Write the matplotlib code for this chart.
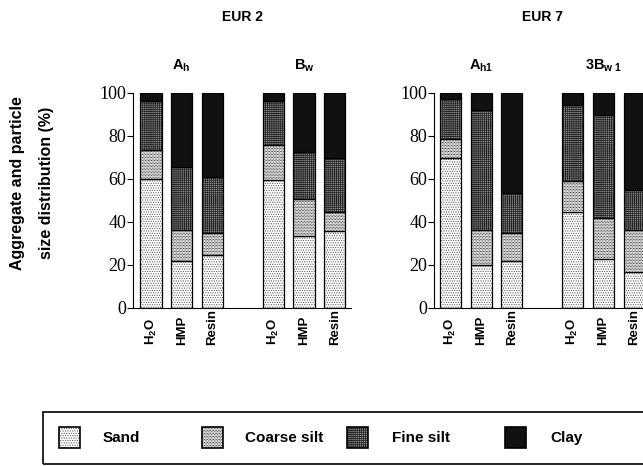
import matplotlib
matplotlib.use('Agg')
import matplotlib.pyplot as plt
import numpy as np
from matplotlib.patches import Rectangle

plt.rcParams['font.family'] = 'Liberation Sans'
plt.rcParams['mathtext.fontset'] = 'custom'
plt.rcParams['mathtext.rm'] = 'Liberation Sans:bold'
plt.rcParams['mathtext.it'] = 'Liberation Sans:bold'
plt.rcParams['mathtext.bf'] = 'Liberation Sans:bold'
plt.rcParams['hatch.linewidth'] = 0.5

# data (percent, stacked bottom -> top)
fractions = ['Sand', 'Coarse silt', 'Fine silt', 'Clay']
treatments = ['H$_2$O', 'HMP', 'Resin']
sites = ['EUR 2', 'EUR 7']
horizons = [['A$_h$', 'B$_w$'], ['A$_{h1}$', '3B$_{w\\ 1}$']]

# cumulative tops of sand, coarse silt, fine silt (clay fills to 100)
eur2_sand = [60, 22, 24.5, 59.5, 33.3, 35.6]
eur2_coarse = [73.2, 36.4, 34.7, 75.8, 50.7, 44.5]
eur2_fine = [96.1, 65.7, 61, 96.1, 72.4, 69.6]
eur7_sand = [69.5, 19.8, 21.7, 44.5, 22.5, 16.5]
eur7_coarse = [78.3, 36.4, 34.9, 59.2, 41.9, 36.1]
eur7_fine = [97.2, 92.2, 53.6, 94.3, 89.5, 54.7]

positions = [0, 1, 2, 4, 5, 6]
faces = ['white', 'white', '#8a8a8a', '#111111']
hatches = ['.......', '...........', '++++++++', None]
hatch_cols = ['#555555', '#111111', '#222222', 'black']

W, H = 643, 466
fig = plt.figure(figsize=(6.43, 4.66), dpi=100)

def px(x0, y0, w, h):
    return [x0 / W, 1 - (y0 + h) / H, w / W, h / H]

panels = [
    (133, -0.59, eur2_sand, eur2_coarse, eur2_fine),
    (434, -0.54, eur7_sand, eur7_coarse, eur7_fine),
]
step = 30.6
bw = 0.69
for k, (x0, xmin, sand, coarse, fine) in enumerate(panels):
    width_px = (6.55 - xmin) * step
    ax = fig.add_axes(px(x0, 92.8, width_px, 215))
    tops = [np.array(sand), np.array(coarse), np.array(fine), np.full(6, 100.0)]
    bottom = np.zeros(6)
    for i in range(4):
        ax.bar(positions, tops[i] - bottom, bottom=bottom, width=bw,
               color=faces[i], hatch=hatches[i], edgecolor=hatch_cols[i], linewidth=0)
        ax.bar(positions, tops[i] - bottom, bottom=bottom, width=bw,
               color='none', edgecolor='black', linewidth=0.9)
        bottom = tops[i]
    ax.set_xlim(xmin, 6.55)
    ax.set_ylim(0, 100)
    ax.set_yticks([0, 20, 40, 60, 80, 100])
    ax.set_yticklabels(['0', '20', '40', '60', '80', '100'], family='Liberation Serif', fontsize=13)
    ax.tick_params(axis='y', length=4, width=0.8, pad=1)
    ax.set_xticks([])
    for s in ['top', 'right']:
        ax.spines[s].set_visible(False)
    ax.spines['left'].set_linewidth(0.8)
    ax.spines['bottom'].set_linewidth(0.8)
    tr = matplotlib.transforms.blended_transform_factory(ax.transData, fig.transFigure)
    for j, p in enumerate(positions):
        ax.text(p, (H - 345) / H, treatments[j % 3], rotation=90, ha='center', va='bottom',
                fontsize=9.5, fontweight='bold', transform=tr, clip_on=False)
    ax.text(1, (H - 70) / H, horizons[k][0], ha='center', va='baseline', fontsize=10.5,
            fontweight='bold', transform=tr)
    ax.text(5, (H - 70) / H, horizons[k][1], ha='center', va='baseline', fontsize=10.5,
            fontweight='bold', transform=tr)
    ax.text(3, (H - 21) / H, sites[k], ha='center', va='baseline', fontsize=10,
            fontweight='bold', transform=tr)

fig.text(18 / W, (H - 183) / H, 'Aggregate and particle', rotation=90, ha='center', va='center',
         fontsize=11.5, fontweight='bold')
fig.text(47 / W, (H - 183) / H, 'size distribution (%)', rotation=90, ha='center', va='center',
         fontsize=11.5, fontweight='bold')

# legend box
fig.add_artist(Rectangle((43 / W, 1 - 464 / H), 640 / W, 52 / H, transform=fig.transFigure,
                         facecolor='none', edgecolor='black', linewidth=1.2))
patch_x = [59, 202, 347, 505]
text_x = [103, 245, 392, 550]
for i, name in enumerate(fractions):
    fig.add_artist(Rectangle((patch_x[i] / W, 1 - 448 / H), 21 / W, 21 / H, transform=fig.transFigure,
                             facecolor=faces[i], hatch=hatches[i], edgecolor=hatch_cols[i], linewidth=0))
    fig.add_artist(Rectangle((patch_x[i] / W, 1 - 448 / H), 21 / W, 21 / H, transform=fig.transFigure,
                             facecolor='none', edgecolor='black', linewidth=1.2))
    fig.text(text_x[i] / W, 1 - 438 / H, name, ha='left', va='center', fontsize=11, fontweight='bold')

fig.savefig('out.png', dpi=100)
